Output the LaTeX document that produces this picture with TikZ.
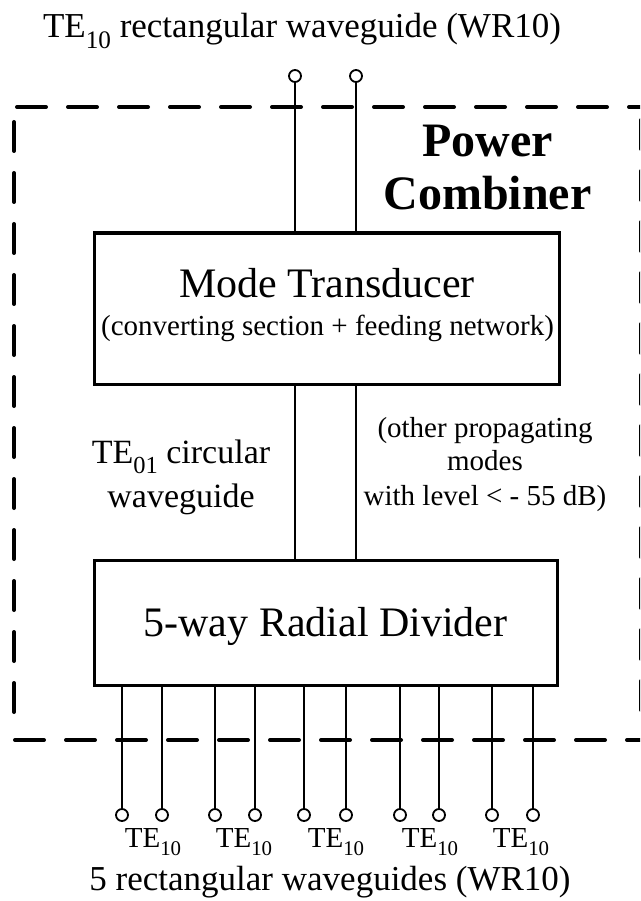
\documentclass[tikz,border=0pt]{standalone}
\usepackage{fontspec}
\usepackage{graphicx}
\setmainfont{Liberation Serif}
\newcommand{\tesub}[1]{\raisebox{-0.3em}{\scalebox{0.72}{#1}}}
\newcommand{\fs}[1]{\fontsize{#1}{#1}\selectfont}
\begin{document}
\begin{tikzpicture}[x=1pt,y=-1pt,
  box/.style={draw,line width=3pt,inner sep=0pt},
  term/.style={draw,circle,line width=1.8pt,minimum size=12pt,inner sep=0pt},
  wire/.style={line width=1.8pt},
  frame/.style={line width=4pt,line cap=round,dash pattern=on 29pt off 22pt},
  lbl/.style={anchor=base,inner sep=0pt,align=center}]
\useasboundingbox (0,0) rectangle (640,901);
\clip (0,0) rectangle (640,901);
% dashed frame
\coordinate (f1) at (17,107);
\coordinate (f2) at (643,107);
\coordinate (f3) at (14,122);
\coordinate (f4) at (14,720);
\coordinate (f5) at (15,740);
\coordinate (f6) at (643,740);
\coordinate (f7) at (641,120);
\coordinate (f8) at (641,730);
\draw[frame] (f1) -- (f2);
\draw[frame] (f3) -- (f4);
\draw[frame] (f5) -- (f6);
\draw[frame] (f7) -- (f8);
% boxes
\node[box,minimum width=465pt,minimum height=151pt] (mt) at (326.5,308.5) {};
\node[box,minimum width=463pt,minimum height=125pt] (rd) at (325.5,622.5) {};
% texts
\node[lbl] (top) at (302,38) {\fs{35}TE\tesub{10} rectangular waveguide (WR10)};
\node[lbl] (pw) at (487.5,157) {\fs{48}\bfseries Power};
\node[lbl] (cb) at (487.5,210) {\fs{48}\bfseries Combiner};
\node[lbl] (mtt) at (327,297) {\fs{42}Mode Transducer};
\node[lbl] (mts) at (327.5,335) {\fs{29}(converting section + feeding network)};
\node[lbl] (rdt) at (325.5,636) {\fs{42}5-way Radial Divider};
\node[lbl] (c1) at (181,463) {\fs{34}TE\tesub{01} circular};
\node[lbl] (c2) at (181,507) {\fs{34}waveguide};
\node[lbl] (o1) at (485,437) {\fs{29}(other propagating};
\node[lbl] (o2) at (485,470) {\fs{29}modes};
\node[lbl] (o3) at (485,505) {\fs{29}with level < - 55 dB)};
\node[lbl] (bot) at (330,890) {\fs{35}5 rectangular waveguides (WR10)};
% top terminals
\node[term] (ta) at (295,76) {};
\node[term] (tb) at (356,76) {};
\draw[wire] (ta) -- (ta |- mt.north);
\draw[wire] (tb) -- (tb |- mt.north);
\draw[wire] (ta |- mt.south) -- (ta |- rd.north);
\draw[wire] (tb |- mt.south) -- (tb |- rd.north);
% bottom terminals
\foreach \i/\x in {1/122,2/162,3/215,4/255,5/304,6/346,7/400,8/439,9/492,10/533}{
  \node[term] (b\i) at (\x,815) {};
  \draw[wire] (b\i |- rd.south) -- (b\i);
}
\foreach \i/\x in {1/153,2/244,3/336,4/430,5/521}{
  \node[lbl] (te\i) at (\x,847) {\fs{29}TE\tesub{10}};
}
\end{tikzpicture}
\end{document}
